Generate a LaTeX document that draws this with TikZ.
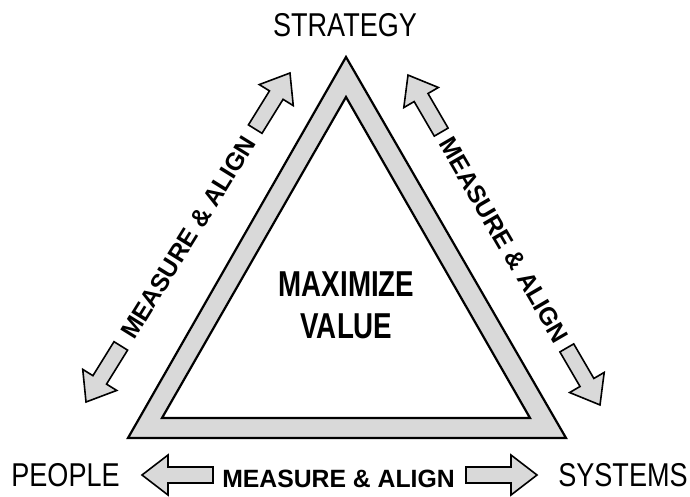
\documentclass[tikz,border=0pt]{standalone}
\usepackage{fontspec}
\newfontfamily\cornerfont[FakeStretch=0.82]{Liberation Sans}
\newfontfamily\valuefont[FakeStretch=0.77]{Liberation Sans}
\newfontfamily\alignfont[FakeStretch=0.99]{Liberation Sans}

\begin{document}
\begin{tikzpicture}[x=1pt,y=-1pt,
	band/.style={draw, line width=2.2pt, line join=miter},
	arrowbody/.style={draw, line width=1.6pt, fill=gray!30, line join=miter},
	corner/.style={font=\cornerfont\fontsize{33}{40}\selectfont, anchor=base, inner sep=0pt},
	alignlabel/.style={font=\alignfont\bfseries\fontsize{25}{30}\selectfont, inner sep=0pt, text depth=0pt},
	pics/halfarrow/.style={code={\draw[arrowbody] (0,-8) -- (#1-26,-8) -- (#1-26,-20) -- (#1,0) -- (#1-26,20) -- (#1-26,8) -- (0,8) -- cycle;}}]
\useasboundingbox (0,0) rectangle (690,496);
\coordinate (top) at (346,57);
\coordinate (left) at (128,438);
\coordinate (right) at (566,438);
\coordinate (itop) at (346,97);
\coordinate (ileft) at (162,418);
\coordinate (iright) at (530,418);
\draw[band, fill=gray!30] (top) -- (left) -- (right) -- cycle;
\draw[band, fill=white] (itop) -- (ileft) -- (iright) -- cycle;
\node [corner] (strategy) at (345,36.5) {STRATEGY};
\node [corner] (people) at (65.5,486.5) {PEOPLE};
\node [corner] (systems) at (623,486.5) {SYSTEMS};
\node [font=\valuefont\bfseries\fontsize{36}{42.3}\selectfont, align=center, inner sep=0pt] (value) at (346.5,305) {MAXIMIZE\\VALUE};
\node [alignlabel, anchor=base] (bottom) at (338.5,487.5) {MEASURE \& ALIGN};
\node [alignlabel, rotate=58.2] (leftside) at (188,237.5) {MEASURE \& ALIGN};
\node [alignlabel, rotate=-59.8] (rightside) at (504,240) {MEASURE \& ALIGN};
\pic [rotate=180] at (213,475) {halfarrow=71};
\pic at (466,475) {halfarrow=71};
\pic [rotate=58.2] at (255.2,129.1) {halfarrow=66};
\pic [rotate=238.2] at (120.8,345.9) {halfarrow=66};
\pic [rotate=120.2] at (441.2,132.1) {halfarrow=66};
\pic [rotate=-59.8] at (566.8,347.9) {halfarrow=66};
\end{tikzpicture}
\end{document}
